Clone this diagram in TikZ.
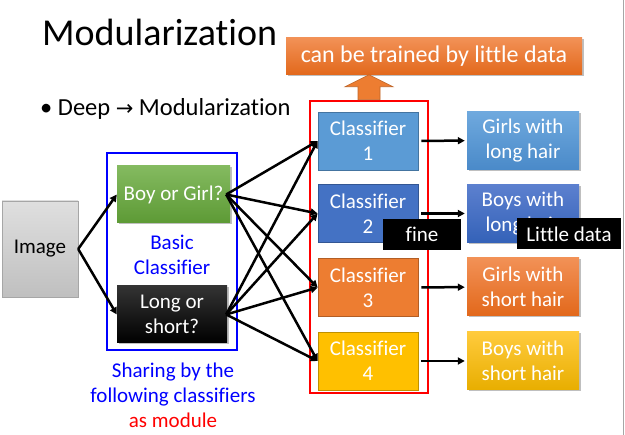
\documentclass[tikz,border=0pt]{standalone}
\usepackage{fontspec}
\setmainfont{Carlito}[Ligatures=NoCommon]
\newfontfamily\symfont{DejaVu Sans}
\usetikzlibrary{arrows.meta,positioning,calc,shadows}

\definecolor{cone}{HTML}{5B9BD5}
\definecolor{ctwo}{HTML}{4472C4}
\definecolor{cthree}{HTML}{ED7D31}
\definecolor{cfour}{HTML}{FFC000}
\definecolor{topa}{HTML}{6FA9DE}
\definecolor{bota}{HTML}{4A8AC9}
\definecolor{topb}{HTML}{5C80CF}
\definecolor{botb}{HTML}{3462B8}
\definecolor{topc}{HTML}{F29156}
\definecolor{botc}{HTML}{E2681B}
\definecolor{topd}{HTML}{FFCB3D}
\definecolor{botd}{HTML}{E8AE00}
\definecolor{greentop}{HTML}{84BA60}
\definecolor{greenbot}{HTML}{5D9A35}
\definecolor{grayline}{HTML}{A6A6A6}

\tikzset{
  txt/.style={font=\fontsize{21}{25}\selectfont},
  soft/.style={drop shadow={shadow xshift=1.5pt,shadow yshift=-1.5pt,fill=black,opacity=0.25}},
  clsbox/.style={txt, text=white, align=center, inner sep=0pt, minimum width=100pt, minimum height=58pt, line width=0.8pt},
  outbox/.style={txt, text=white, align=center, inner sep=0pt, minimum width=112pt, minimum height=58pt, soft},
  tagbox/.style={txt, text=white, fill=black, inner sep=0pt, minimum height=31pt},
  conn/.style={line width=2.5pt, -{Triangle[length=7pt,width=7pt]}}
}

\begin{document}
\begin{tikzpicture}[x=1pt,y=-1pt]
\useasboundingbox (0,0) rectangle (625,435);
\draw[grayline, line width=1pt] (623.5,0) -- (623.5,435);

% title and bullet
\node[anchor=base west, inner sep=0pt, font=\fontsize{38}{42}\selectfont] (title) at (42,46) {Modularization};
\node[anchor=base west, inner sep=0pt, font=\fontsize{24.5}{28}\selectfont] (bullet) at (40,116) {• Deep {\symfont\fontsize{21}{24}\selectfont →} Modularization};

% left part
\node[txt, inner sep=0pt, minimum width=76pt, minimum height=96pt, draw=grayline, top color=gray!25, bottom color=gray!50] (image) at (40,249) {Image};
\node[draw=blue, line width=2.5pt, minimum width=130pt, minimum height=197pt, inner sep=0pt] (share) at (172,251.5) {};
\node[txt, text=white, inner sep=0pt, minimum width=113pt, minimum height=57pt, top color=greentop, bottom color=greenbot, soft] (boy) at (173.5,194.5) {Boy or Girl?};
\node[txt, text=white, align=center, inner sep=0pt, minimum width=110pt, minimum height=57pt, top color=black!80, bottom color=black, soft] (long) at (172,314.5) {Long or\\short?};
\node[txt, text=blue, align=center] (basic) at (172,255) {Basic\\Classifier};
\node[txt, text=blue, align=center] (sharing) at (173,395) {Sharing by the\\following classifiers\\{\color{red}as module}};

% classifiers
\node[draw=red, line width=2.5pt, minimum width=118pt, minimum height=292pt, inner sep=0pt] (frame) at (369,247) {};
\foreach \i/\y/\fil in {1/141/cone, 2/213.5/ctwo, 3/287.5/cthree, 4/361/cfour}
  \node[clsbox, fill=\fil, draw=\fil!75!black] (c\i) at (368,\y) {Classifier\\\i};

\foreach \i/\y/\top/\bot/\lbl in {1/140.5/topa/bota/{Girls with\\long hair}, 2/213.5/topb/botb/{Boys with\\long hair}, 3/287/topc/botc/{Girls with\\short hair}, 4/361/topd/botd/{Boys with\\short hair}}
  \node[outbox, top color=\top, bottom color=\bot] (r\i) at (523,\y) {\lbl};

% connectors
\draw[conn] (image.east) -- (boy.west);
\draw[conn] (image.east) -- (long.west);
\foreach \i in {1,...,4}{
  \draw[conn] ($(boy.east)+(-4,0)$) -- (c\i.west);
  \draw[conn] ($(long.east)+(-1,0)$) -- (c\i.west);
  \draw[conn, shorten <=3pt, shorten >=2pt] (c\i) -- (r\i);
}

% top note
\node[font=\fontsize{24}{28}\selectfont, text=white, inner sep=0pt, minimum width=296pt, minimum height=37pt, top color=topc, bottom color=botc, soft] (note) at (434,56.5) {can be trained by little data};
\filldraw[fill=cthree, draw=cthree!80!black, line width=0.6pt] ($(frame.north)+(-11,0)$) -- ++(0,-13) -- ++(-13,0) -- ($(frame.north)+(0,-25)$) -- ($(frame.north)+(24,-13)$) -- ++(-13,0) -- ++(0,13) -- cycle;

% tags
\node[tagbox, minimum width=78pt] (fine) at (422,234.5) {fine};
\node[tagbox, minimum width=104pt] (little) at (569,234) {Little data};
\end{tikzpicture}
\end{document}
